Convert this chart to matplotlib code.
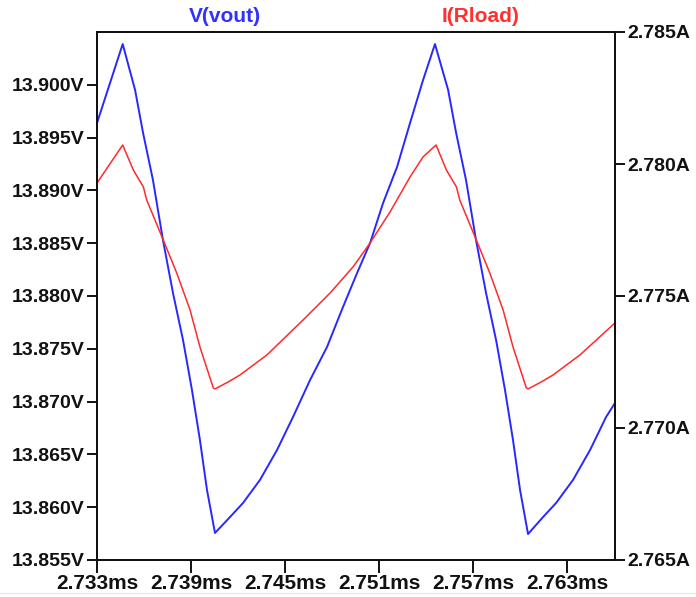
import matplotlib
matplotlib.use("Agg")
import matplotlib.pyplot as plt
from matplotlib.lines import Line2D

# time in ms
t_vout = [2.73300, 2.73464, 2.73543, 2.73594, 2.73657, 2.73721, 2.73785, 2.73849,
          2.73906, 2.73957, 2.74002, 2.74053, 2.74149, 2.74232, 2.74340, 2.74449,
          2.74551, 2.74660, 2.74768, 2.74870, 2.74960, 2.75043, 2.75126, 2.75215,
          2.75298, 2.75381, 2.75457, 2.75541, 2.75592, 2.75655, 2.75719, 2.75783,
          2.75847, 2.75904, 2.75955, 2.76000, 2.76051, 2.76147, 2.76230, 2.76338,
          2.76447, 2.76549, 2.76606]
v_vout = [13.89638, 13.90386, 13.89951, 13.89544, 13.89099, 13.88530, 13.88028, 13.87583,
          13.87110, 13.86636, 13.86163, 13.85756, 13.85907, 13.86040, 13.86258, 13.86542,
          13.86854, 13.87205, 13.87517, 13.87896, 13.88218, 13.88502, 13.88881, 13.89222,
          13.89638, 13.90045, 13.90386, 13.89951, 13.89544, 13.89099, 13.88530, 13.88028,
          13.87583, 13.87110, 13.86636, 13.86163, 13.85746, 13.85907, 13.86040, 13.86258,
          13.86542, 13.86854, 13.86987]

t_rload = [2.73300, 2.73464, 2.73532, 2.73596, 2.73617, 2.73723, 2.73809, 2.73894,
           2.73957, 2.74042, 2.74053, 2.74136, 2.74213, 2.74385, 2.74615, 2.74787,
           2.74934, 2.75043, 2.75170, 2.75298, 2.75381, 2.75464, 2.75530, 2.75594,
           2.75615, 2.75721, 2.75807, 2.75892, 2.75955, 2.76040, 2.76051, 2.76134,
           2.76211, 2.76383, 2.76606]
i_rload = [2.77928, 2.78072, 2.77977, 2.77913, 2.77864, 2.77712, 2.77587, 2.77447,
           2.77307, 2.77152, 2.77148, 2.77174, 2.77201, 2.77277, 2.77409, 2.77511,
           2.77610, 2.77701, 2.77818, 2.77951, 2.78027, 2.78072, 2.77977, 2.77913,
           2.77864, 2.77712, 2.77587, 2.77447, 2.77307, 2.77152, 2.77148, 2.77174,
           2.77201, 2.77277, 2.77398]

x_ticks = [2.733, 2.739, 2.745, 2.751, 2.757, 2.763]
v_ticks = [13.855, 13.860, 13.865, 13.870, 13.875, 13.880, 13.885, 13.890, 13.895, 13.900]
i_ticks = [2.765, 2.770, 2.775, 2.780, 2.785]

plt.rcParams['font.family'] = ['Liberation Sans', 'DejaVu Sans']
plt.rcParams['font.weight'] = 'bold'

fig = plt.figure(figsize=(6.96, 5.97), dpi=100)
ax = fig.add_axes([97 / 696, 37 / 597, 518 / 696, 528 / 597])
ax2 = ax.twinx()

ax.plot(t_vout, v_vout, color='#2828ff', lw=1.4)
ax2.plot(t_rload, i_rload, color='#ff2a2a', lw=1.1)

ax.set_xlim(2.733, 2.76606)
ax.set_ylim(13.855, 13.905)
ax2.set_ylim(2.765, 2.785)

ax.set_xticks(x_ticks)
ax.set_xticklabels([f"{x:.3f}ms" for x in x_ticks])
ax.set_yticks(v_ticks)
ax.set_yticklabels([f"{v:.3f}V" for v in v_ticks])
ax2.set_yticks(i_ticks)
ax2.set_yticklabels([f"{i:.3f}A" for i in i_ticks])

for a in (ax, ax2):
    for s in a.spines.values():
        s.set_linewidth(1.4)
        s.set_color('#111111')
    a.tick_params(width=1.4, length=7, labelsize=14, colors='#111111', pad=2)
ax.tick_params(axis='x', length=9, pad=1, labelsize=15)

fig.text(225 / 696, 1 - 16 / 597, 'V(vout)', color='#3030ff', fontsize=15,
         fontweight='bold', ha='center', va='center')
fig.text(481 / 696, 1 - 16 / 597, 'I(Rload)', color='#ff3030', fontsize=15,
         fontweight='bold', ha='center', va='center')

fig.add_artist(Line2D([0, 1], [4 / 597, 4 / 597], color='#e8e8e8', lw=1))

fig.savefig('out.png', dpi=100)
